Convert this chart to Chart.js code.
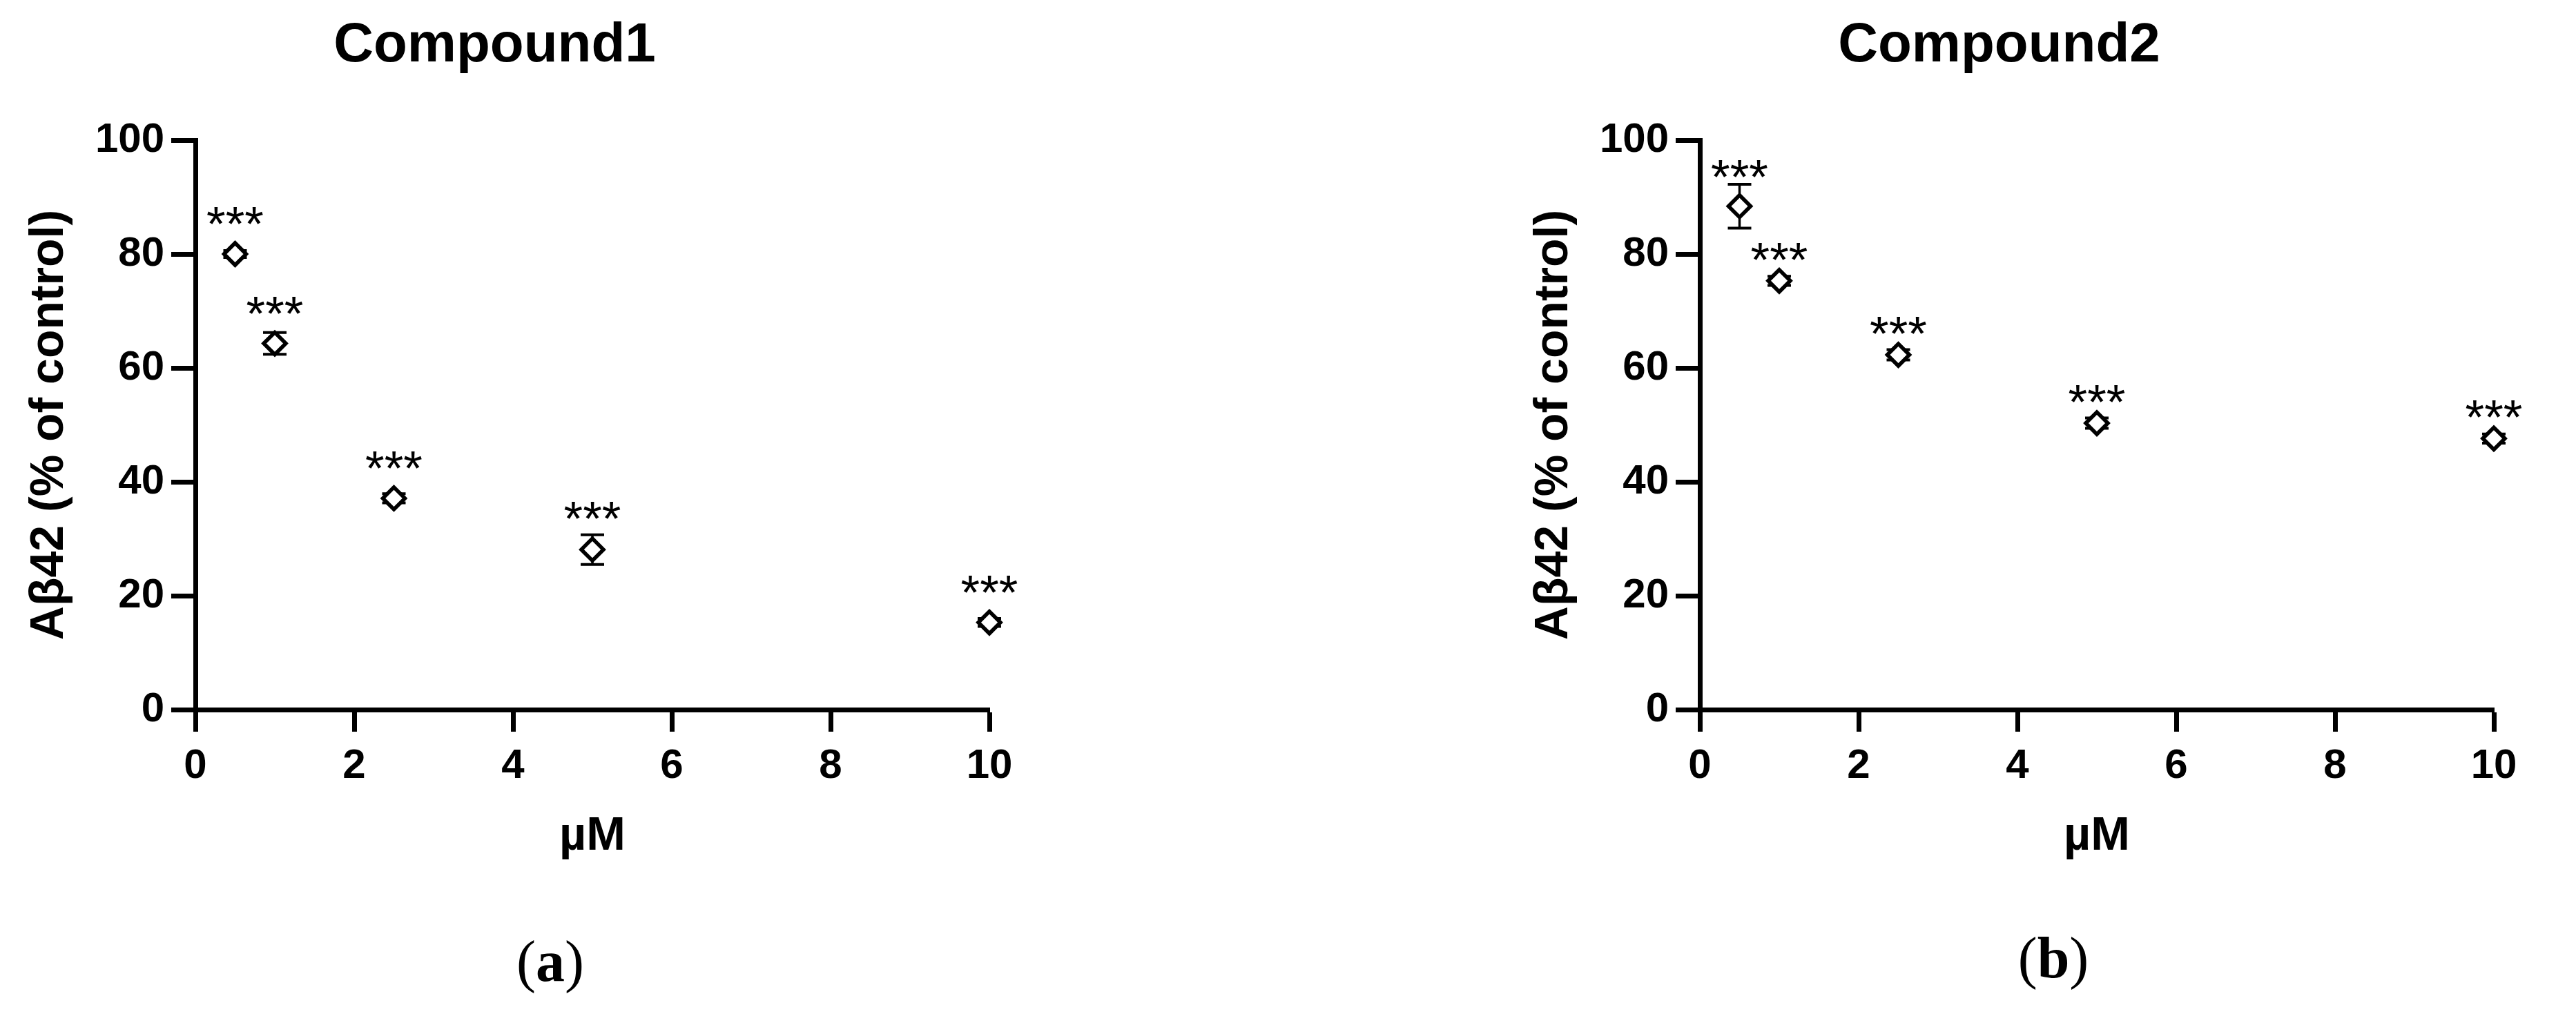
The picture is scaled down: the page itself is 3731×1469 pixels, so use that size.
<!DOCTYPE html>
<html lang="en">
<head>
  <meta charset="UTF-8">
  <title>Abeta42 dose response</title>
  <script src="https://cdn.jsdelivr.net/npm/chart.js"></script>
  <style>
    html, body { margin: 0; padding: 0; background: #fff; }
    body { width: 3731px; height: 1469px; position: relative; overflow: hidden; }
    canvas { position: absolute; top: 0; }
    #c1 { left: 0; }
    #c2 { left: 2179px; }
    .panel {
      position: absolute;
      font-family: "Liberation Serif", "Times New Roman", serif;
      font-size: 84px;
      line-height: 1;
      transform: translate(-50%, -50%);
      color: #000;
    }
    .panel b { font-weight: bold; }
  </style>
</head>
<body>
  <canvas id="c1" width="1552" height="1469"></canvas>
  <canvas id="c2" width="1552" height="1469"></canvas>
  <div class="panel" style="left:797px; top:1393px;">(<b>a</b>)</div>
  <div class="panel" style="left:2974px; top:1388px;">(<b>b</b>)</div>

<script>
  // dados
  const doses = [0.5, 1, 2.5, 5, 10];
  const comp1Mean = [80.0, 64.3, 37.1, 28.1, 15.3];
  const comp1Sem = [0.6, 1.9, 0.8, 2.6, 0.7];
  const comp1Sig = ['***', '***', '***', '***', '***'];
  const comp2Mean = [88.4, 75.3, 62.3, 50.3, 47.6];
  const comp2Sem = [3.85, 0.8, 0.9, 0.9, 0.8];
  const comp2Sig = ['***', '***', '***', '***', '***'];
  const xTickValues = [0, 2, 4, 6, 8, 10];
  const yTickValues = [0, 20, 40, 60, 80, 100];

  const sans = '"Liberation Sans", Arial, sans-serif';
  const markerR = 16;

  // barras de erro (desenhadas antes dos marcadores) e asteriscos
  const errorStars = {
    id: 'errorStars',
    beforeDatasetsDraw(chart, args, opts) {
      const ctx = chart.ctx;
      const xs = chart.scales.x, ys = chart.scales.y;
      ctx.save();
      ctx.strokeStyle = '#000';
      ctx.lineCap = 'butt';
      opts.means.forEach((m, i) => {
        const e = opts.sems[i];
        const px = xs.getPixelForValue(doses[i]);
        const top = ys.getPixelForValue(m + e);
        const bot = ys.getPixelForValue(m - e);
        ctx.lineWidth = 3.5;
        ctx.beginPath();
        ctx.moveTo(px, top);
        ctx.lineTo(px, bot);
        ctx.stroke();
        ctx.lineWidth = 4;
        ctx.beginPath();
        ctx.moveTo(px - 17, top); ctx.lineTo(px + 17, top);
        ctx.moveTo(px - 17, bot); ctx.lineTo(px + 17, bot);
        ctx.stroke();
      });
      ctx.restore();
    },
    afterDatasetsDraw(chart, args, opts) {
      const ctx = chart.ctx;
      const xs = chart.scales.x, ys = chart.scales.y;
      ctx.save();
      ctx.fillStyle = '#000';
      ctx.font = '71px ' + sans;
      ctx.textAlign = 'center';
      ctx.textBaseline = 'alphabetic';
      opts.means.forEach((m, i) => {
        const px = xs.getPixelForValue(doses[i]);
        const markTop = ys.getPixelForValue(m) - markerR - 4;
        const errTop = ys.getPixelForValue(m + opts.sems[i]);
        const center = Math.min(markTop, errTop) - opts.gap;
        ctx.fillText(opts.sig[i], px, center + 41);
      });
      ctx.restore();
    }
  };

  function makeChart(id, titulo, means, sems, sig, gap) {
    return new Chart(document.getElementById(id), {
      type: 'scatter',
      data: {
        datasets: [{
          label: titulo,
          data: doses.map((d, i) => ({ x: d, y: means[i] })),
          pointStyle: 'rectRot',
          pointRadius: markerR,
          pointHoverRadius: markerR,
          pointBorderWidth: 5.5,
          borderColor: '#000',
          backgroundColor: '#fff',
          clip: false
        }]
      },
      options: {
        responsive: false,
        animation: false,
        devicePixelRatio: 1,
        events: [],
        layout: { padding: { left: 0, top: 0, right: 119, bottom: 216 } },
        plugins: {
          legend: { display: false },
          tooltip: { enabled: false },
          title: {
            display: true,
            text: titulo,
            color: '#000',
            font: { family: sans, size: 80, weight: 'bold' },
            padding: { top: 19, bottom: 88 }
          },
          errorStars: { means: means, sems: sems, sig: sig, gap: gap }
        },
        scales: {
          x: {
            type: 'linear',
            min: 0,
            max: 10,
            afterBuildTicks: (s) => { s.ticks = xTickValues.map(v => ({ value: v })); },
            afterFit: (s) => { s.height = 225; },
            grid: { drawOnChartArea: false, drawTicks: true, tickLength: 32, tickWidth: 7, tickColor: '#000' },
            border: { display: true, width: 7, color: '#000' },
            ticks: { color: '#000', padding: 14, font: { family: sans, size: 60, weight: 'bold' } },
            title: {
              display: true,
              text: 'µM',
              color: '#000',
              font: { family: sans, size: 68, weight: 'bold' },
              padding: { top: 0, bottom: 0 }
            }
          },
          y: {
            type: 'linear',
            min: 0,
            max: 100,
            afterBuildTicks: (s) => { s.ticks = yTickValues.map(v => ({ value: v })); },
            afterFit: (s) => { s.width = 283; },
            grid: { drawOnChartArea: false, drawTicks: true, tickLength: 35, tickWidth: 7, tickColor: '#000' },
            border: { display: true, width: 7, color: '#000' },
            ticks: { color: '#000', padding: 10, font: { family: sans, size: 60, weight: 'bold' } },
            title: {
              display: true,
              text: 'Aβ42 (% of control)',
              color: '#000',
              font: { family: sans, size: 68, weight: 'bold' },
              padding: { top: 31, bottom: 0 }
            }
          }
        }
      },
      plugins: [errorStars]
    });
  }

  makeChart('c1', 'Compound1', comp1Mean, comp1Sem, comp1Sig, 40);
  makeChart('c2', 'Compound2', comp2Mean, comp2Sem, comp2Sig, 27);
</script>
</body>
</html>
